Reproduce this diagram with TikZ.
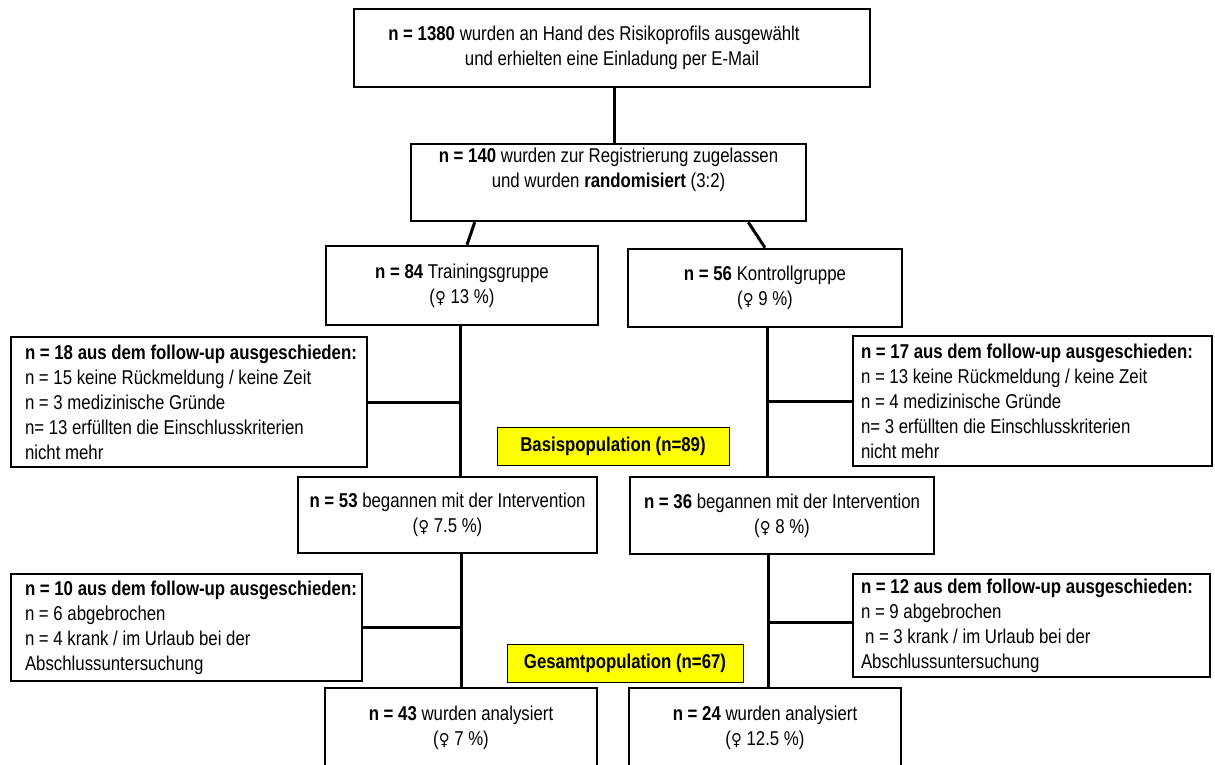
\documentclass[tikz,border=0pt]{standalone}
\usepackage{fontspec}
\setmainfont{Liberation Sans}[FakeStretch=0.84]
\newfontfamily\femfont{DejaVu Sans}[FakeStretch=0.9]
\newcommand{\fem}{{\femfont\fontsize{16.5}{25}\selectfont ♀}}
\definecolor{popyellow}{RGB}{255,255,0}
\tikzset{
  box/.style={draw, line width=2.6pt, align=flush center, inner sep=0pt, font=\fontsize{20}{25}\selectfont},
  dropbox/.style={draw, line width=2.6pt, align=flush left, inner ysep=0pt, font=\fontsize{20}{25}\selectfont},
  popbox/.style={draw, line width=1pt, fill=popyellow, inner sep=0pt, font=\bfseries\fontsize{20}{25}\selectfont},
  conn/.style={line width=3pt},
}
\begin{document}
\begin{tikzpicture}[x=1pt,y=-1pt]
\useasboundingbox (0,0) rectangle (1215,764);
% main boxes
\node[box, minimum width=516pt, minimum height=78pt] (b1) at (612,48)
  {\textbf{n = 1380} wurden an Hand des Risikoprofils ausgewählt\hspace*{36pt}\\ und erhielten eine Einladung per E-Mail};
\node[box, minimum width=395pt, minimum height=77pt] (b2) at (608.5,182.5)
  {\textbf{n = 140} wurden zur Registrierung zugelassen\\ und wurden \textbf{randomisiert} (3:2)\\[-2pt] \strut};
\node[box, minimum width=272pt, minimum height=79pt] (b3) at (462,285.5)
  {\textbf{n = 84} Trainingsgruppe\\ (\fem\ 13 \%)};
\node[box, minimum width=274pt, minimum height=78pt] (b4) at (765,288)
  {\textbf{n = 56} Kontrollgruppe\\ (\fem\ 9 \%)};
\node[box, minimum width=299pt, minimum height=76pt] (b5) at (447.5,515)
  {\textbf{n = 53} begannen mit der Intervention\\ (\fem\ 7.5 \%)};
\node[box, minimum width=304pt, minimum height=77pt] (b6) at (782,515.5)
  {\textbf{n = 36} begannen mit der Intervention\\ (\fem\ 8 \%)};
\node[box, minimum width=272pt, minimum height=80pt] (b7) at (461,728)
  {\textbf{n = 43} wurden analysiert\\ (\fem\ 7 \%)};
\node[box, minimum width=272pt, minimum height=80pt] (b8) at (765,728)
  {\textbf{n = 24} wurden analysiert\\ (\fem\ 12.5 \%)};
% drop-out boxes
\node[dropbox, text width=328pt, inner xsep=14pt, minimum height=130pt] (d1L) at (189,402)
  {\mbox{\textbf{n = 18 aus dem follow-up ausgeschieden:}}\\ n = 15 keine Rückmeldung / keine Zeit\\ n = 3 medizinische Gründe\\ n= 13 erfüllten die Einschlusskriterien\\ nicht mehr};
\node[dropbox, text width=343pt, inner xsep=8pt, minimum height=130pt] (d1R) at (1032.5,401)
  {\mbox{\textbf{n = 17 aus dem follow-up ausgeschieden:}}\\ n = 13 keine Rückmeldung / keine Zeit\\ n = 4 medizinische Gründe\\ n= 3 erfüllten die Einschlusskriterien\\ nicht mehr};
\node[dropbox, text width=323pt, inner xsep=14pt, minimum height=107pt] (d2L) at (186.5,627.5)
  {\mbox{\textbf{n = 10 aus dem follow-up ausgeschieden:}}\\ n = 6 abgebrochen\\ n = 4 krank / im Urlaub bei der\\ Abschlussuntersuchung};
\node[dropbox, text width=341pt, inner xsep=8pt, minimum height=103pt] (d2R) at (1031.5,625.5)
  {\mbox{\textbf{n = 12 aus dem follow-up ausgeschieden:}}\\ n = 9 abgebrochen\\ \hspace*{4pt}n = 3 krank / im Urlaub bei der\\ Abschlussuntersuchung};
% population labels
\node[popbox, minimum width=232pt, minimum height=38pt] (basis) at (613,446) {Basispopulation (n=89)};
\node[popbox, minimum width=236pt, minimum height=38pt] (gesamt) at (625,663) {Gesamtpopulation (n=67)};
% trunk coordinates
\coordinate (t1) at ([xshift=-2pt]b3.south);
\coordinate (t2) at ([xshift=2pt]b4.south);
\coordinate (t3) at ([xshift=13.5pt]b5.south);
\coordinate (t4) at ([xshift=-14pt]b6.south);
% connectors
\draw[conn] ([xshift=2pt]b1.south) -- ([xshift=2pt]b1.south |- b2.north);
\draw[conn] ([xshift=65pt]b2.south west) -- ([xshift=5pt]b3.north);
\draw[conn] ([xshift=-59pt]b2.south east) -- (b4.north);
\draw[conn] (t1) -- (t1 |- b5.north);
\draw[conn] (t2) -- (t2 |- b6.north);
\draw[conn] (d1L.east) -- (d1L.east -| t1);
\draw[conn] (d1R.west) -- (d1R.west -| t2);
\draw[conn] (t3) -- (t3 |- b7.north);
\draw[conn] (t4) -- (t4 |- b8.north);
\draw[conn] (d2L.east) -- (d2L.east -| t3);
\draw[conn] ([yshift=3.5pt]d2R.west) -- ([yshift=3.5pt]d2R.west -| t4);
\end{tikzpicture}
\end{document}
